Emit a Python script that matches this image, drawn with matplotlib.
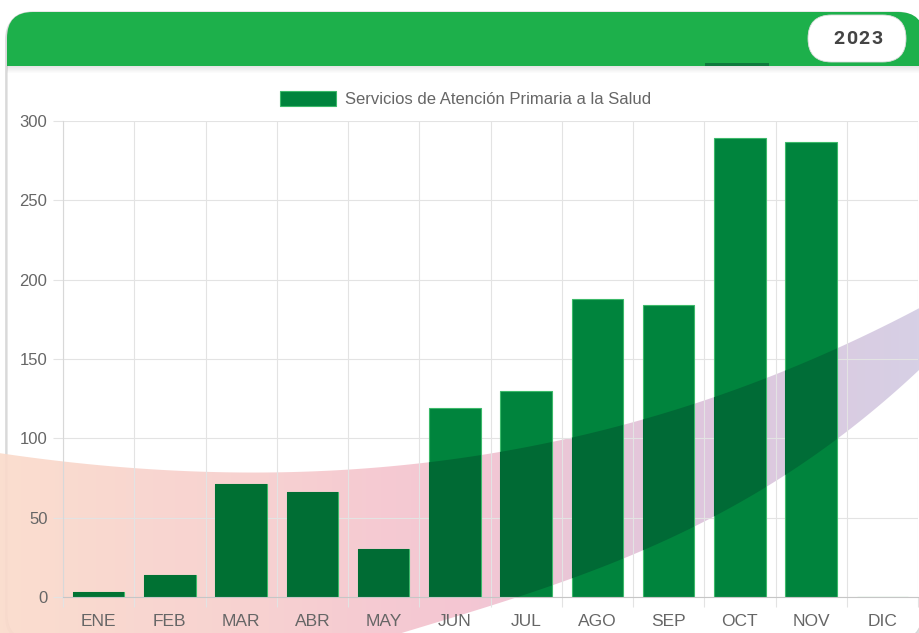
import numpy as np
import matplotlib
matplotlib.use("Agg")
import matplotlib.pyplot as plt
from matplotlib.patches import FancyBboxPatch, Rectangle, Polygon
from matplotlib.colors import LinearSegmentedColormap, to_rgb

plt.rcParams['font.family'] = ['Liberation Sans', 'DejaVu Sans']

# datos
meses = ["ENE", "FEB", "MAR", "ABR", "MAY", "JUN", "JUL", "AGO", "SEP", "OCT", "NOV", "DIC"]
servicios = [3, 14, 71, 66, 30, 119, 130, 188, 184, 289, 287, 0]
serie = "Servicios de Atención Primaria a la Salud"
anio = "2023"
yticks = [0, 50, 100, 150, 200, 250, 300]

W, H = 919, 633
verde = "#00843d"
gris_txt = "#666666"
gris_grid = "#e3e3e3"


def main():
    fig = plt.figure(figsize=(W / 100, H / 100), dpi=100)

    # capa de fondo en pixeles
    bg = fig.add_axes([0, 0, 1, 1], zorder=0)
    bg.set_xlim(0, W)
    bg.set_ylim(H, 0)
    bg.axis("off")

    # tarjeta
    sombra = FancyBboxPatch((5, 14), 919, 628, boxstyle="round,pad=0,rounding_size=26",
                            fc="#dedede", ec="none", zorder=1)
    bg.add_patch(sombra)
    card = FancyBboxPatch((7, 12), 915, 628, boxstyle="round,pad=0,rounding_size=26",
                          fc="white", ec="#d6d6d6", lw=0.8, zorder=2)
    bg.add_patch(card)

    # cabecera verde
    head = FancyBboxPatch((7, 12), 917, 120, boxstyle="round,pad=0,rounding_size=26",
                          fc="#1db04b", ec="none", zorder=4)
    bg.add_patch(head)
    head.set_clip_path(Rectangle((0, 0), W, 66, transform=bg.transData))
    for k in range(7):
        bg.add_patch(Rectangle((7, 66 + k), 917, 1, fc="black", ec="none",
                               alpha=0.10 * (1 - k / 7), zorder=4))
    bg.add_patch(Rectangle((705, 63), 64, 3, fc="#0e7a3c", ec="none", zorder=4))

    # pastilla del año
    pill = FancyBboxPatch((808, 15), 98, 47, boxstyle="round,pad=0,rounding_size=23.5",
                          fc="white", ec="#dddddd", lw=0.6, zorder=5)
    bg.add_patch(pill)
    for j, ch in enumerate(anio):
        bg.text(858 + (j - 1.5) * 12.6, 39, ch, ha="center", va="center", fontsize=14,
                fontweight="bold", color="#444444", family=["Roboto", "DejaVu Sans"], zorder=6)

    # franja decorativa
    xs = np.linspace(-20, 940, 300)
    up_x = [0, 100, 233, 333, 460, 627, 793, 919]
    up_y = [452, 467, 473, 470, 457, 423, 370, 307]
    lo_x = [300, 380, 460, 627, 793, 919]
    lo_y = [665, 640, 615, 557, 470, 370]
    upper = np.polyval(np.polyfit(up_x, up_y, 3), xs)
    lower = np.polyval(np.polyfit(lo_x, lo_y, 3), xs)
    lower = np.where(xs < 350, 700, lower)
    verts = np.vstack([np.column_stack([xs, upper]), np.column_stack([xs[::-1], lower[::-1]])])
    band = Polygon(verts, closed=True, fc="none", ec="none", transform=bg.transData)
    bg.add_patch(band)

    cmap = LinearSegmentedColormap.from_list(
        "franja", [(0, "#fbdccb"), (0.3, "#f7cdcd"), (0.5, "#f4c1cf"),
                   (0.75, "#dcc1da"), (1, "#d3cde4")])
    grad = np.linspace(0, 1, 256)[np.newaxis, :]
    im = bg.imshow(grad, extent=(-20, 940, 700, 250), aspect="auto", cmap=cmap,
                   alpha=0.92, zorder=7)
    im.set_clip_path(band)

    # grafico de barras
    ax = fig.add_axes([63 / W, 36 / H, 855 / W, 476 / H], zorder=1)
    ax.patch.set_alpha(0)
    x = np.arange(len(meses))
    bars = ax.bar(x, servicios, width=0.72, color=verde, edgecolor="#3cb96a",
                  linewidth=0.8, label=serie, zorder=2)

    # zona oscura donde la franja cruza las barras
    g = np.array(to_rgb(verde))
    for i, b in enumerate(bars.patches):
        px = 63 + (i + 0.5) * 855 / 12
        c = np.array(cmap((px + 20) / 960)[:3])
        dark = g * (0.8 * c + 0.2)
        r = Rectangle(b.get_xy(), b.get_width(), b.get_height(), fc=dark, ec="none", zorder=2.5)
        ax.add_patch(r)
        r.set_clip_path(band)

    ax.set_xlim(-0.5, 11.5)
    ax.set_ylim(0, 300)
    ax.set_yticks(yticks)
    ax.set_xticks(x)
    ax.set_xticklabels(meses)
    ax.set_xticks(np.arange(-0.5, 12, 1), minor=True)
    ax.set_axisbelow(True)
    ax.grid(axis="y", color=gris_grid, lw=0.8)
    ax.grid(axis="x", which="minor", color=gris_grid, lw=0.8)

    for s in ["top", "right"]:
        ax.spines[s].set_visible(False)
    ax.spines["left"].set_color("#d8d8d8")
    ax.spines["bottom"].set_color("#c6c6c6")
    ax.spines["left"].set_linewidth(0.8)
    ax.spines["bottom"].set_linewidth(0.8)

    ax.tick_params(axis="y", length=7.2, width=0.8, color=gris_grid, labelsize=12,
                   labelcolor=gris_txt, pad=4)
    ax.tick_params(axis="x", which="major", length=0, labelsize=12.5, labelcolor=gris_txt, pad=12.5)
    ax.tick_params(axis="x", which="minor", length=7.2, width=0.8, color=gris_grid)

    ax.legend(loc="center", bbox_to_anchor=(466 / W, 1 - 99 / H), bbox_transform=fig.transFigure,
              frameon=False, fontsize=12, labelcolor=gris_txt, handlelength=3.36,
              handleheight=0.96, handletextpad=0.54, borderpad=0)

    fig.savefig("out.png", dpi=100)


if __name__ == "__main__":
    main()
